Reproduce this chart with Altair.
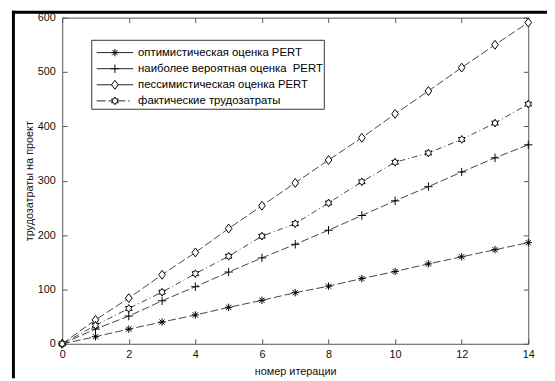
import math
import altair as alt
import pandas as pd

# ---- data ----
iterations = list(range(15))
optimistic = [0, 13, 27, 40, 53, 67, 80, 94, 106, 120, 133, 147, 160, 173, 186]
most_likely = [0, 27, 51, 79, 105, 132, 158, 183, 209, 236, 263, 289, 316, 342, 366]
pessimistic = [0, 44, 84, 127, 168, 212, 254, 296, 338, 379, 423, 465, 508, 550, 591]
actual = [0, 34, 65, 95, 129, 161, 198, 221, 259, 298, 334, 351, 376, 406, 441]
series_names = [
    "оптимистическая оценка PERT",
    "наиболее вероятная оценка\u00a0 PERT",
    "пессимистическая оценка PERT",
    "фактические трудозатраты",
]
x_ticks = [0, 2, 4, 6, 8, 10, 12, 14]
y_ticks = [0, 100, 200, 300, 400, 500, 600]
x_title = "номер итерации"
y_title = "трудозатраты на проект"

rows = []
for name, vals in zip(series_names, [optimistic, most_likely, pessimistic, actual]):
    for i, v in zip(iterations, vals):
        rows.append({"x": i, "v": v, "series": name})
df = pd.DataFrame(rows)
legend_df = pd.DataFrame({"series": series_names, "row": list(range(len(series_names)))})

# ---- styling ----
W, H = 473, 331
FONT = "Liberation Sans"
FRAME = "#555555"


def f(v):
    return f"{v:.3f}".rstrip("0").rstrip(".")


def asterisk(r):
    d = r * 0.707
    return (f"M{f(-r)},0L{f(r)},0M0,{f(-r)}L0,{f(r)}"
            f"M{f(-d)},{f(-d)}L{f(d)},{f(d)}M{f(-d)},{f(d)}L{f(d)},{f(-d)}")


def plus(r):
    return f"M{f(-r)},0L{f(r)},0M0,{f(-r)}L0,{f(r)}"


def diamond(hw, hh):
    return f"M0,{f(-hh)}L{f(hw)},0L0,{f(hh)}L{f(-hw)},0Z"


def hexagram(r):
    pts = []
    ri = r / math.sqrt(3)
    for k in range(6):
        a1 = math.radians(-90 + 60 * k)
        a2 = math.radians(-60 + 60 * k)
        pts.append((r * math.cos(a1), r * math.sin(a1)))
        pts.append((ri * math.cos(a2), ri * math.sin(a2)))
    return "M" + "L".join(f"{f(x)},{f(y)}" for x, y in pts) + "Z"


# markers (size 100 -> 5px per unit)
marker_shapes = [asterisk(0.75), plus(0.85), diamond(0.68, 0.9), hexagram(0.78)]
shape_scale = alt.Scale(domain=series_names, range=marker_shapes)

xs = alt.Scale(domain=[0, 14], nice=False, zero=False)
ys = alt.Scale(domain=[0, 600], nice=False, zero=False)

common_axis = dict(domain=False, grid=False, tickSize=5, tickColor=FRAME, tickWidth=1,
                   offset=-5, labelFlush=False, labelOverlap=False)

bottom_axis = alt.Axis(orient="bottom", values=x_ticks, format="d", labelPadding=5,
                       title=x_title, titlePadding=6, **common_axis)
left_axis = alt.Axis(orient="left", values=y_ticks, format="d", labelPadding=7,
                     title=y_title, titlePadding=3, **common_axis)
top_axis = alt.Axis(orient="top", values=x_ticks, labels=False, title=None, **common_axis)
right_axis = alt.Axis(orient="right", values=y_ticks, labels=False, title=None, **common_axis)

base = alt.Chart(df)

lines = base.mark_line(strokeWidth=1, color="#444444").encode(
    x=alt.X("x:Q", scale=xs, axis=bottom_axis),
    y=alt.Y("v:Q", scale=ys, axis=left_axis),
    detail="series:N",
    strokeDash=alt.StrokeDash(
        "series:N",
        scale=alt.Scale(domain=series_names,
                        range=[[8, 3], [8, 3], [8, 3], [6, 3, 1, 3]]),
        legend=None,
    ),
)

points = base.mark_point(size=100, fill="white", stroke="black", strokeWidth=1,
                         opacity=1, fillOpacity=1).encode(
    x=alt.X("x:Q", scale=xs, axis=top_axis),
    y=alt.Y("v:Q", scale=ys, axis=right_axis),
    shape=alt.Shape("series:N", scale=shape_scale, legend=None),
)

# ---- legend (box, line samples, markers, labels) ----
LX0, LX1 = 30, 266          # box, relative to plot area
LY0, LY1 = 23, 93
SYM0, SYM1 = 35, 72         # sample line
SYMC = 53.5                 # marker centre
TXT = 77                    # label start
row_y = alt.Y("row:Q", scale=alt.Scale(domain=[0, 3], range=[35.5, 84.5]), axis=None)

lg = alt.Chart(legend_df)
legend_box = alt.Chart(pd.DataFrame({"k": [0]})).mark_rect(
    fill="white", stroke="#333333", strokeWidth=1).encode(
    x=alt.value(LX0), x2=alt.value(LX1), y=alt.value(LY0), y2=alt.value(LY1))
legend_solid = lg.transform_filter("datum.row < 3").mark_rule(
    color="#222222", strokeWidth=1).encode(
    x=alt.value(SYM0), x2=alt.value(SYM1), y=row_y)
legend_dashdot = lg.transform_filter("datum.row == 3").mark_rule(
    color="#222222", strokeWidth=1, strokeDash=[9, 3, 17, 3, 1.5, 10]).encode(
    x=alt.value(SYM0), x2=alt.value(SYM1), y=row_y)
legend_marks = lg.mark_point(size=100, fill="white", stroke="black", strokeWidth=1,
                             opacity=1, fillOpacity=1).encode(
    x=alt.value(SYMC), y=row_y,
    shape=alt.Shape("series:N", scale=shape_scale, legend=None))
legend_text = lg.mark_text(align="left", baseline="middle", font=FONT, fontSize=11.5,
                           color="black").encode(
    x=alt.value(TXT), y=row_y, text="series:N")

border_df = pd.DataFrame({"k": [0]})
left_border = alt.Chart(border_df).mark_rule(color="black", strokeWidth=3).encode(
    x=alt.value(-49.5), y=alt.value(-7), y2=alt.value(H + 35))
top_border = alt.Chart(border_df).mark_rule(color="black", strokeWidth=3).encode(
    x=alt.value(-51), x2=alt.value(W + 19), y=alt.value(-5.5))

chart = alt.layer(
    lines, points, legend_box, legend_solid, legend_dashdot, legend_marks, legend_text,
    left_border, top_border,
).resolve_scale(
    y="independent"
).resolve_axis(
    x="independent", y="independent"
).properties(
    width=W, height=H,
    padding={"left": 55, "top": 7, "right": 19, "bottom": 35},
    autosize=alt.AutoSizeParams(type="none"),
    background="white",
).configure_view(
    stroke=FRAME, strokeWidth=1
).configure_axis(
    labelFont=FONT, labelFontSize=11, labelColor="#111111",
    titleFont=FONT, titleFontSize=11, titleFontWeight="normal", titleColor="#111111",
)

chart.save("out.html", embed_options={"renderer": "svg", "actions": False})
